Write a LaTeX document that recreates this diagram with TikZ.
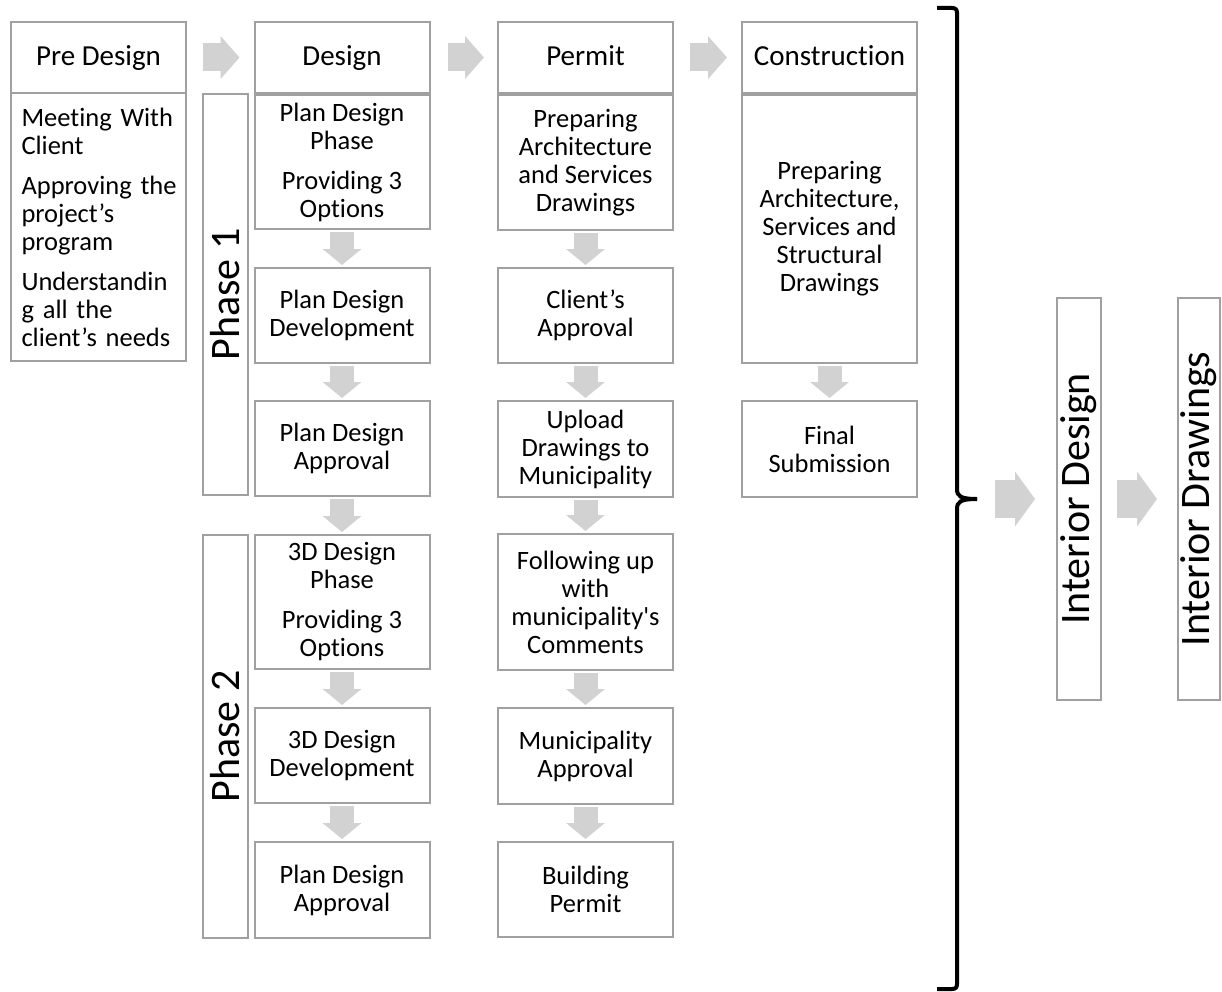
\documentclass[tikz,border=0pt]{standalone}
\usepackage{fontspec}
\setmainfont{Carlito}[Ligatures={TeX,NoCommon}]
\usetikzlibrary{arrows.meta}
\definecolor{boxgray}{RGB}{160,160,160}
\definecolor{arrowgray}{RGB}{210,210,210}
\newcommand{\myhead}{\fontsize{29}{32}\selectfont}
\newcommand{\mybody}{\fontsize{26.5}{28}\selectfont}
\newcommand{\mybig}{\fontsize{42}{46}\selectfont}
\newcommand{\jline}[1]{\makebox[154pt][s]{#1}}
\begin{document}
\begin{tikzpicture}[x=1pt,y=-1pt,
  box/.style={draw=boxgray, line width=2pt, outer sep=0pt, inner sep=0pt, align=center, font=\mybody, text=black},
  headbox/.style={box, font=\myhead, minimum width=175pt, minimum height=71pt, text height=22pt, text depth=5.4pt},
  colbox/.style={box, minimum width=175pt},
  tallbox/.style={box, font=\mybig},
  dnarrow/.style={draw=arrowgray, line width=24pt, -{Triangle[width=38pt,length=16pt]}, shorten <=3pt, shorten >=3pt},
  rtarrow/.style={draw=arrowgray, line width=28pt, -{Triangle[width=42pt,length=19pt]}, shorten <=17pt, shorten >=15pt},
  bigarrow/.style={draw=arrowgray, line width=38pt, -{Triangle[width=54pt,length=20pt]}},
  bracket/.style={draw=black, line width=4pt}
]
\useasboundingbox (0,0) rectangle (1222,992);

% Pre Design
\node[headbox] (prehead) at (98.5,57.5) {Pre Design};
\node[colbox, minimum height=268pt, text width=154pt, align=left] (prebody) at (98.5,227)
  {\jline{Meeting With}\\Client\\[12pt]\jline{Approving the}\\project’s\\program\\[12pt]Understandin\\\jline{g all the}\\client’s needs};

% Design
\node[headbox] (deshead) at (342,57.5) {Design};
\node[tallbox, minimum width=45pt, minimum height=401pt] (ph1) at (225.5,294.5) {\rotatebox{90}{Phase 1}};
\node[colbox, minimum height=134pt] (d1) at (342,162) {Plan Design\\Phase\\[12pt]Providing 3\\Options};
\node[colbox, minimum height=95pt] (d2) at (342,315.5) {Plan Design\\Development};
\node[colbox, minimum height=95pt] (d3) at (342,448.5) {Plan Design\\Approval};
\node[tallbox, minimum width=45pt, minimum height=403pt] (ph2) at (225.5,736.5) {\rotatebox{90}{Phase 2}};
\node[colbox, minimum height=134pt] (d4) at (342,602) {3D Design\\Phase\\[12pt]Providing 3\\Options};
\node[colbox, minimum height=95pt] (d5) at (342,755.5) {3D Design\\Development};
\node[colbox, minimum height=96pt] (d6) at (342,890) {Plan Design\\Approval};

% Permit
\node[headbox] (perhead) at (585.5,57.5) {Permit};
\node[colbox, minimum height=135pt] (m1) at (585.5,162.5) {Preparing\\Architecture\\and Services\\Drawings};
\node[colbox, minimum height=95pt] (m2) at (585.5,315.5) {Client’s\\Approval};
\node[colbox, minimum height=96pt] (m3) at (585.5,449) {Upload\\Drawings to\\Municipality};
\node[colbox, minimum height=136pt] (m4) at (585.5,602) {Following up\\with\\municipality\textquotesingle s\\Comments};
\node[colbox, minimum height=96pt] (m5) at (585.5,756) {Municipality\\Approval};
\node[colbox, minimum height=95pt] (m6) at (585.5,889.5) {Building\\Permit};

% Construction
\node[headbox] (conhead) at (829.5,57.5) {Construction};
\node[colbox, minimum height=268pt] (c1) at (829.5,229) {Preparing\\Architecture,\\Services and\\Structural\\Drawings};
\node[colbox, minimum height=96pt] (c2) at (829.5,449) {Final\\Submission};

% Interior
\node[tallbox, minimum width=44pt, minimum height=402pt] (intdes) at (1079,499) {\rotatebox{90}{Interior Design}};
\node[tallbox, minimum width=42pt, minimum height=402pt] (intdraw) at (1199,499) {\rotatebox{90}{Interior Drawings}};

% horizontal arrows
\draw[rtarrow] (prehead.east) -- (deshead.west);
\draw[rtarrow, shorten <=18pt, shorten >=14pt] (deshead.east) -- (perhead.west);
\draw[rtarrow] (perhead.east) -- (conhead.west);

% down arrows
\draw[dnarrow] (d1.south) -- (d2.north);
\draw[dnarrow] (d2.south) -- (d3.north);
\draw[dnarrow] (d3.south) -- (d4.north);
\draw[dnarrow] (d4.south) -- (d5.north);
\draw[dnarrow] (d5.south) -- (d6.north);
\draw[dnarrow] (m1.south) -- (m2.north);
\draw[dnarrow] (m2.south) -- (m3.north);
\draw[dnarrow] (m3.south) -- (m4.north);
\draw[dnarrow] (m4.south) -- (m5.north);
\draw[dnarrow] (m5.south) -- (m6.north);
\draw[dnarrow] (c1.south) -- (c2.north);

% bracket
\coordinate (btip) at (977,499);
\draw[bracket] (937,8) -- (952,8) .. controls (955.5,8) and (957,9.5) .. (957,13) -- (957,489) .. controls (957,496) and (960,499) .. (btip);
\draw[bracket] (btip) .. controls (960,499) and (957,502) .. (957,509) -- (957,984) .. controls (957,987.5) and (955.5,989) .. (952,989) -- (937,989);

% arrows to interior
\draw[bigarrow, shorten <=18pt, shorten >=22pt] (btip) -- (intdes.west);
\draw[bigarrow, shorten <=16pt, shorten >=21pt] (intdes.east) -- (intdraw.west);
\end{tikzpicture}
\end{document}
